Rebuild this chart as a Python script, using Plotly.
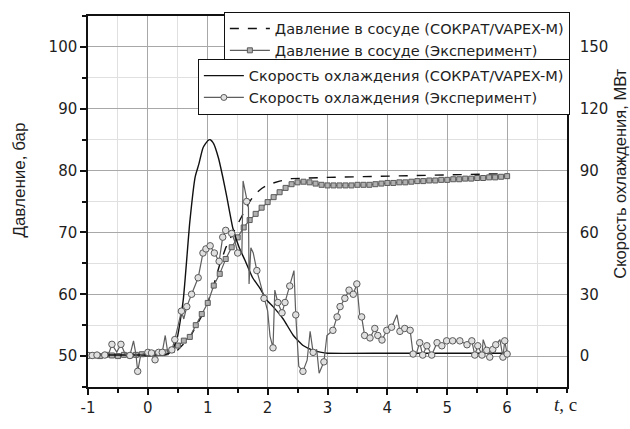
import plotly.graph_objects as go

# ---------------- data ----------------
# Pressure, simulation (bar)
p_sim_t = [-1.0, 0.0, 0.3, 0.5, 0.7, 0.9, 1.0, 1.1, 1.2, 1.3, 1.4, 1.5, 1.6, 1.7, 1.8, 1.9, 2.0,
           2.2, 2.4, 2.6, 3.0, 3.5, 4.0, 4.5, 5.0, 5.5, 6.0]
p_sim = [50.0, 50.0, 50.2, 51.0, 53.0, 56.5, 58.6, 61.5, 64.8, 67.5, 69.5, 71.3, 73.2, 75.0, 76.3,
         77.1, 77.7, 78.3, 78.7, 78.8, 78.9, 79.0, 79.1, 79.2, 79.3, 79.4, 79.5]

# Pressure, experiment (bar)
p_exp_t = [round(-1.0 + 0.1 * i, 1) for i in range(71)]
p_exp = [50.1, 50.1, 50.0, 50.2, 50.1, 50.0, 50.2, 50.1, 50.2, 50.3,
         50.4, 50.4, 50.5, 50.6, 51.0, 51.7, 52.5, 53.1, 55.0, 56.8,
         58.6, 61.4, 63.3, 65.7, 67.6, 69.2, 70.8, 72.0, 73.0, 74.0,
         74.9, 75.7, 76.5, 77.2, 77.8, 78.1, 78.2, 78.1, 77.9, 77.7,
         77.6, 77.6, 77.6, 77.6, 77.6, 77.7, 77.7, 77.7, 77.8, 77.9,
         78.0, 78.0, 78.1, 78.1, 78.2, 78.3, 78.3, 78.4, 78.4, 78.5,
         78.5, 78.6, 78.6, 78.7, 78.7, 78.8, 78.8, 78.9, 78.9, 79.0, 79.1]

# Cooling rate, simulation (MW)
q_sim_t = [-1.0, 0.0, 0.3, 0.4, 0.49, 0.59, 0.7, 0.79, 0.85, 0.92, 1.0, 1.04, 1.1, 1.18, 1.25,
           1.32, 1.42, 1.52, 1.62, 1.75, 1.87, 1.99, 2.09, 2.26, 2.43, 2.6, 2.76, 2.9, 3.0,
           4.0, 5.0, 6.0]
q_sim = [0.5, 0.5, 0.8, 2.5, 8.8, 27, 65, 87, 93, 101, 104.5, 105, 103, 96, 87,
         77, 62, 53, 46.6, 38, 33, 27, 24, 18, 10, 5, 2.8, 1.8, 1.4,
         1.4, 1.4, 1.4]

# Cooling rate, experiment (MW); flag = 1 where a circle marker is drawn
q_exp_t = [-1.0, -0.93, -0.85, -0.72, -0.65, -0.6, -0.52, -0.45, -0.38, -0.3, -0.24, -0.2, -0.17,
           -0.12, 0.0, 0.06, 0.12, 0.18, 0.24, 0.29, 0.33, 0.4, 0.45, 0.5, 0.56, 0.6, 0.65,
           0.73, 0.84, 0.92, 0.97, 1.04, 1.11, 1.19, 1.25, 1.30, 1.40, 1.46, 1.50, 1.57, 1.59,
           1.65, 1.68, 1.69, 1.72, 1.76, 1.82, 1.88, 1.94, 2.0, 2.04, 2.09, 2.12, 2.17, 2.24,
           2.29, 2.37, 2.44, 2.47, 2.52, 2.59, 2.66, 2.71, 2.76, 2.82, 2.86, 2.94, 2.99, 3.09,
           3.16, 3.21, 3.29, 3.36, 3.43, 3.49, 3.54, 3.57, 3.62, 3.71, 3.79, 3.84, 3.91, 3.99,
           4.07, 4.16, 4.21, 4.29, 4.38, 4.43, 4.49, 4.54, 4.59, 4.66, 4.74, 4.83, 4.91, 4.99,
           5.09, 5.21, 5.33, 5.41, 5.46, 5.51, 5.58, 5.60, 5.66, 5.71, 5.76, 5.81, 5.88, 5.93,
           5.96, 6.0]
q_exp = [0.3, 0.3, 0.5, 0.5, 1.5, 5.7, 2, 5.7, 1, 0.3, 7.4, 1, -7.4,
         0.5, 1.8, 1.5, -1.8, 1.8, 1.8, 10, 2, 3, 8, 14, 21.8, 18, 24,
         30, 38, 50, 52, 53.5, 50, 46, 57.7, 61, 59.5, 55, 50, 50, 85,
         75, 72, 35, 52.6, 50, 41.5, 35, 28, 22, 9.7, 4, 32, 26, 21,
         26, 34, 41.5, 20, -5, -7.4, -2, 12, 1.8, 3.2, -8.3, -2.8, 10, 12.5,
         19, 24, 28, 32, 30, 35, 19, 19, 10, 8.8, 13.4, 10, 7.8, 12.5,
         14, 20, 12, 13.4, 12.5, 1, 1.8, 6.5, 0.5, 5, 0.5, 6.5, 5, 7.4,
         7.4, 7.4, 5.5, 7.4, 0.5, 5, 0.5, 8, 2.8, -0.5, 3.2, 5.5, 8, -0.5,
         7.4, 1]
q_exp_mark = [1, 1, 1, 1, 0, 1, 0, 1, 0, 1, 0, 0, 1,
              0, 1, 1, 1, 1, 1, 0, 0, 1, 1, 0, 1, 0, 1,
              1, 1, 1, 1, 1, 1, 1, 1, 1, 1, 0, 1, 0, 0,
              1, 0, 0, 0, 0, 1, 0, 1, 0, 0, 1, 0, 1, 1,
              1, 1, 0, 1, 0, 1, 0, 0, 1, 0, 0, 1, 0, 1,
              1, 1, 1, 1, 1, 1, 0, 1, 1, 1, 1, 1, 1, 1,
              1, 0, 1, 1, 1, 1, 0, 1, 1, 1, 1, 1, 1, 1,
              1, 1, 1, 1, 1, 1, 1, 0, 1, 1, 1, 1, 0, 1,
              1, 1]

names = ["Давление в сосуде (СОКРАТ/VAPEX-M)",
         "Давление в сосуде (Эксперимент)",
         "Скорость охлаждения (СОКРАТ/VAPEX-M)",
         "Скорость охлаждения (Эксперимент)"]

x_ticks = [-1, 0, 1, 2, 3, 4, 5, 6]
y_ticks = [50, 60, 70, 80, 90, 100]
y2_ticks = [0, 30, 60, 90, 120, 150]

# ---------------- figure ----------------
FONT = "Liberation Sans, Arial, sans-serif"
WIDE = "DejaVu Sans, Verdana, sans-serif"
TXT = "#1e1e1e"
GREY = "#5e5e5e"

fig = go.Figure()

fig.add_trace(go.Scatter(x=p_sim_t, y=p_sim, mode="lines", name=names[0],
                         line=dict(color="#111", width=1.4, dash="dash"),
                         legend="legend", yaxis="y"))
fig.add_trace(go.Scatter(x=p_exp_t, y=p_exp, mode="lines+markers", name=names[1],
                         line=dict(color=GREY, width=1.2),
                         marker=dict(symbol="square", size=5, color="#b0b0b0",
                                     line=dict(color="#5a5a5a", width=1)),
                         legend="legend", yaxis="y"))

fig.add_trace(go.Scatter(x=q_sim_t, y=q_sim, mode="lines", name=names[2],
                         line=dict(color="#111", width=1.4, shape="spline", smoothing=0.5),
                         legend="legend2", yaxis="y2"))
# experimental cooling: line through all points
fig.add_trace(go.Scatter(x=q_exp_t, y=q_exp, mode="lines", showlegend=False,
                         line=dict(color=GREY, width=1.2), yaxis="y2"))
# experimental cooling: circle markers
mx = [t for t, f in zip(q_exp_t, q_exp_mark) if f]
my = [v for v, f in zip(q_exp, q_exp_mark) if f]
fig.add_trace(go.Scatter(x=mx, y=my, mode="markers", showlegend=False,
                         marker=dict(symbol="circle", size=6.5, color="#e0e0e0",
                                     line=dict(color="#5a5a5a", width=1)),
                         yaxis="y2"))
# legend entry for experimental cooling
fig.add_trace(go.Scatter(x=[None], y=[None], mode="lines+markers", name=names[3],
                         line=dict(color=GREY, width=1.2),
                         marker=dict(symbol="circle", size=6, color="#e0e0e0",
                                     line=dict(color="#5a5a5a", width=1)),
                         legend="legend2", yaxis="y2"))

grid_major = "#a8a8a8"
grid_minor = "#e0e0e0"

LEG_FONT = 14.5
TICK_FONT = dict(family=WIDE, size=15, color=TXT)

fig.update_layout(
    width=630, height=429,
    margin=dict(l=88, r=63, t=12, b=27),
    paper_bgcolor="white", plot_bgcolor="white",
    font=dict(family=FONT, size=16, color=TXT),
    xaxis=dict(range=[-1, 7], tickvals=x_ticks, ticktext=[str(v) for v in x_ticks],
               showgrid=True, gridcolor=grid_major, gridwidth=1,
               ticks="outside", ticklen=6, tickwidth=1.5, tickcolor="#111",
               showline=True, linecolor="#111", linewidth=1.5, mirror=True,
               zeroline=False, tickfont=TICK_FONT,
               minor=dict(dtick=0.5, tick0=-1, showgrid=True, gridcolor=grid_minor,
                          ticks="outside", ticklen=4, tickcolor="#111")),
    yaxis=dict(range=[45, 105], tickvals=y_ticks, ticktext=[str(v) for v in y_ticks],
               showgrid=True, gridcolor=grid_major, gridwidth=1,
               ticks="outside", ticklen=6, tickwidth=1.5, tickcolor="#111",
               showline=True, linecolor="#111", linewidth=1.5,
               zeroline=False, tickfont=TICK_FONT,
               minor=dict(dtick=5, tick0=45, showgrid=True, gridcolor=grid_minor,
                          ticks="outside", ticklen=4, tickcolor="#111")),
    yaxis2=dict(range=[-15, 165], overlaying="y", side="right",
                tickvals=y2_ticks, ticktext=[str(v) for v in y2_ticks],
                showgrid=False, zeroline=False,
                ticks="", ticklabelstandoff=8,
                showline=True, linecolor="#111", linewidth=1.5,
                tickfont=TICK_FONT),
    legend=dict(x=1.006, xanchor="right", y=1.012, yanchor="top",
                bgcolor="white", bordercolor="#111", borderwidth=1,
                font=dict(family=WIDE, size=LEG_FONT, color=TXT), tracegroupgap=0,
                itemwidth=40),
    legend2=dict(x=1.006, xanchor="right", y=0.885, yanchor="top",
                 bgcolor="white", bordercolor="#111", borderwidth=1,
                 font=dict(family=WIDE, size=LEG_FONT, color=TXT), tracegroupgap=0,
                 itemwidth=40),
    showlegend=True,
)

# axis titles (placed as in the reference, off-centre)
fig.add_annotation(x=-0.142, y=0.559, xref="paper", yref="paper",
                   xanchor="center", yanchor="middle", textangle=-90, showarrow=False,
                   text="Давление, бар", font=dict(size=17, color=TXT))
fig.add_annotation(x=1.11, y=0.574, xref="paper", yref="paper",
                   xanchor="center", yanchor="middle", textangle=-90, showarrow=False,
                   text="Скорость охлаждения, МВт", font=dict(size=16.5, color=TXT))

fig.add_annotation(x=6.97, y=0, xref="x", yref="paper", yanchor="top", xanchor="center",
                   yshift=-5, showarrow=False,
                   text="<i>t</i>, c",
                   font=dict(family="Liberation Serif, Times New Roman, serif", size=19, color=TXT))

fig.write_html("out.html")
